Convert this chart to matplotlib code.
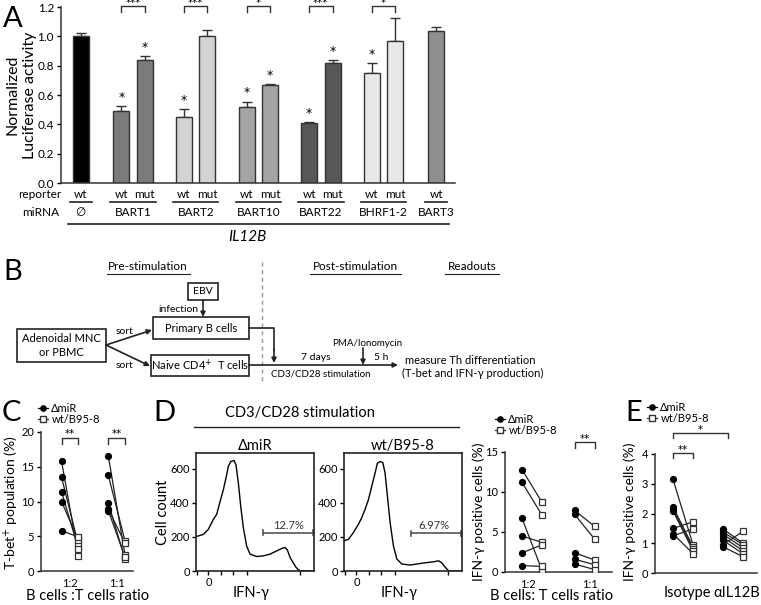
import numpy as np
import matplotlib
matplotlib.use('Agg')
import matplotlib.pyplot as plt
from matplotlib.patches import Rectangle
from matplotlib.lines import Line2D
import matplotlib.transforms as mtransforms

plt.rcParams['font.family'] = ['Lato', 'DejaVu Sans']
STAR_FONT = ['DejaVu Sans']

W, H = 761, 605

# ---------------- data ----------------
# Panel A
mirnas = ['\u2205', 'BART1', 'BART2', 'BART10', 'BART22', 'BHRF1-2', 'BART3']
wt_vals = [1.00, 0.49, 0.45, 0.52, 0.41, 0.75, 1.035]
wt_err = [0.025, 0.035, 0.055, 0.035, 0.006, 0.07, 0.03]
mut_vals = [None, 0.84, 1.00, 0.665, 0.82, 0.965, None]
mut_err = [None, 0.025, 0.04, 0.01, 0.02, 0.16, None]
wt_star = [False, True, True, True, True, True, False]
mut_star = [False, True, False, True, True, False, False]
pair_sig = [None, '***', '***', '*', '***', '*', None]
bar_colors = ['#000000', '#7b7b7b', '#d2d2d2', '#a4a4a4', '#575757', '#e8e8e8', '#8e8e8e']

# Panel C
c_ratios = ['1:2', '1:1']
c_dmir = [[15.8, 13.5, 11.4, 10.0, 5.8], [16.6, 13.8, 9.8, 8.9, 8.7]]
c_wt = [[2.2, 3.8, 3.2, 4.4, 4.9], [2.3, 4.3, 1.7, 4.0, 2.0]]

# Panel D histograms (IFN-gamma, arbitrary x units 0-100)
hist_dmir_x = [0, 6.2, 10.5, 14.7, 17.5, 20.9, 23.2, 25.4, 27.4, 29.4, 32.2, 33.9, 35.9, 37.9,
               40.1, 42.9, 45.8, 51.4, 57.1, 62.7, 68.4, 72.6, 75.4, 77.4, 79.7, 82.5, 84.7,
               86.7, 88.7, 100]
hist_dmir_y = [202, 215, 245, 303, 332, 420, 478, 546, 614, 643, 649, 623, 517, 381,
               255, 147, 99, 85, 89, 99, 118, 132, 138, 124, 80, 47, 22, 8, 0, 0]
hist_wt_x = [0, 3.7, 7.9, 12.2, 15.0, 17.8, 20.7, 23.5, 26.3, 28.3, 30.6, 32.9, 34.8, 36.8,
             39.1, 41.9, 44.8, 49.0, 56.1, 67.4, 75.9, 80.2, 83.0, 85.8, 88.7, 100]
hist_wt_y = [177, 186, 225, 274, 313, 361, 419, 497, 575, 633, 643, 637, 575, 439,
             284, 147, 70, 41, 35, 47, 54, 60, 47, 22, 0, 0]
gate_labels = ['12.7%', '6.97%']
hist_titles = ['\u0394miR', 'wt/B95-8']

# Panel D right
d_ratios = ['1:2', '1:1']
d_dmir = [[12.8, 11.2, 6.7, 4.5, 2.4, 0.8], [7.7, 7.2, 2.4, 1.6, 1.0]]
d_wt = [[8.7, 7.1, 0.2, 3.7, 3.4, 0.7], [5.7, 4.1, 1.5, 0.9, 0.3]]

# Panel E
e_groups = ['Isotype', '\u03b1IL12B']
e_dmir = [[3.15, 2.22, 2.15, 2.08, 1.5, 1.32, 1.25], [1.48, 1.38, 1.3, 1.2, 1.1, 0.95, 0.88]]
e_wt = [[0.95, 0.88, 0.82, 0.75, 1.72, 0.65, 1.48], [1.0, 0.95, 0.85, 0.75, 0.65, 1.4, 0.55]]

# ---------------- figure ----------------
fig = plt.figure(figsize=(W / 100, H / 100), dpi=100)
fig.patch.set_facecolor('white')


def px_axes(x0, y0, x1, y1):
    return fig.add_axes([x0 / W, 1 - y1 / H, (x1 - x0) / W, (y1 - y0) / H])


ov = fig.add_axes([0, 0, 1, 1])
ov.set_xlim(0, W)
ov.set_ylim(H, 0)
ov.axis('off')
ov.set_zorder(10)

LC = '#222222'

# ---------------- Panel A ----------------
axA = px_axes(61, 7, 455, 183)
axA.set_xlim(0, 394)
axA.set_ylim(0, 1.2)
for s in ['top', 'right']:
    axA.spines[s].set_visible(False)
for s in ['left', 'bottom']:
    axA.spines[s].set_linewidth(1.1)
    axA.spines[s].set_color('#333333')
axA.set_xticks([])
axA.set_yticks(np.arange(0, 1.21, 0.2))
axA.set_yticklabels(['%.1f' % v for v in np.arange(0, 1.21, 0.2)], fontsize=8.5)
axA.tick_params(axis='y', length=3, width=1, pad=2)
ov.text(13, 95, 'Normalized', rotation=90, ha='center', va='center', fontsize=11.5)
ov.text(30, 95, 'Luciferase activity', rotation=90, ha='center', va='center', fontsize=11.5)

blendA = mtransforms.blended_transform_factory(axA.transData, ov.transData)
bw = 16
half = 11.75
for i, name in enumerate(mirnas):
    c = 9.5 + 62.6 * i
    single = mut_vals[i] is None
    if single:
        xs = [c + 10 if i == 0 else c - 10]
        labs = ['wt']
    else:
        xs = [c - half, c + half]
        labs = ['wt', 'mut']
    vals = [wt_vals[i]] + ([] if single else [mut_vals[i]])
    errs = [wt_err[i]] + ([] if single else [mut_err[i]])
    stars = [wt_star[i]] + ([] if single else [mut_star[i]])
    axA.bar(xs, vals, width=bw, color=bar_colors[i], edgecolor='#333333', linewidth=1.0, zorder=2)
    for x, v, e, st in zip(xs, vals, errs, stars):
        axA.errorbar([x], [v], yerr=[[0], [e]], fmt='none', ecolor='#333333',
                     elinewidth=1.0, capsize=3.5, capthick=1.0, zorder=1)
        if st:
            axA.text(x, v + e + 0.015, '*', ha='center', va='bottom', fontsize=9,
                     family=STAR_FONT)
    for x, l in zip(xs, labs):
        ov.text(x, 194, l, transform=blendA, ha='center', va='center', fontsize=8.5)
    ov.plot([xs[0] - 11, xs[-1] + 11], [201.5, 201.5], transform=blendA, color=LC, lw=1.2)
    ov.text(np.mean(xs), 213, name, transform=blendA, ha='center', va='center', fontsize=8.5)
    if pair_sig[i]:
        axA.plot([xs[0], xs[0], xs[1], xs[1]], [1.165, 1.205, 1.205, 1.165],
                 color='#333333', lw=1.0, clip_on=False)
        axA.text(np.mean(xs), 1.195, pair_sig[i], ha='center', va='bottom', fontsize=7.5,
                 clip_on=False, family=STAR_FONT)

ov.text(61, 194, 'reporter', ha='right', va='center', fontsize=8.5)
ov.text(59, 213, 'miRNA', ha='right', va='center', fontsize=8.5)
ov.plot([68, 449], [224, 224], color=LC, lw=1.2)
ov.text(247, 237, 'IL12B', ha='center', va='center', fontsize=11, style='italic')
ov.text(3, 19, 'A', ha='left', va='center', fontsize=21)

# ---------------- Panel B ----------------
ov.text(3, 272, 'B', ha='left', va='center', fontsize=21)
for txt, cx, x0, x1 in [('Pre-stimulation', 148, 107, 190),
                        ('Post-stimulation', 355, 310, 401),
                        ('Readouts', 472, 445, 499)]:
    ov.text(cx, 267, txt, ha='center', va='center', fontsize=8.5)
    ov.plot([x0, x1], [274, 274], color=LC, lw=0.8)
ov.plot([262, 262], [262, 384], color='#999999', lw=1.0, ls=(0, (3, 2.5)))


def box(x0, y0, x1, y1):
    ov.add_patch(Rectangle((x0, y0), x1 - x0, y1 - y0, fill=False, ec=LC, lw=1.2))


def arrow(x0, y0, x1, y1):
    ov.annotate('', xy=(x1, y1), xytext=(x0, y0),
                arrowprops=dict(arrowstyle='-|>', color=LC, lw=1.2, mutation_scale=7,
                                shrinkA=0, shrinkB=0))


box(188, 283, 218, 300)
ov.text(203, 291.5, 'EBV', ha='center', va='center', fontsize=7.5)
ov.text(198, 310, 'infection', ha='right', va='center', fontsize=7.5)
arrow(203, 300, 203, 317)
box(153, 317, 249, 339)
ov.text(201, 328, 'Primary B cells', ha='center', va='center', fontsize=8)
box(17, 329, 106, 362)
ov.text(61.5, 339, 'Adenoidal MNC', ha='center', va='center', fontsize=8)
ov.text(61.5, 353, 'or PBMC', ha='center', va='center', fontsize=8)
ov.text(116, 331, 'sort', ha='left', va='center', fontsize=7.5)
ov.text(116, 365, 'sort', ha='left', va='center', fontsize=7.5)
arrow(106, 345, 152, 330)
arrow(106, 345, 150, 366)
box(151, 355, 249, 376)
ov.text(200, 365.5, 'Naive CD4$^{+}$  T cells', ha='center', va='center', fontsize=8)
ov.plot([249, 274, 274], [328, 328, 350], color=LC, lw=1.2)
arrow(274, 349, 274, 363)
arrow(249, 365, 398, 365)
ov.text(316, 357, '7 days', ha='center', va='center', fontsize=7.5)
ov.text(367, 343, 'PMA/Ionomycin', ha='center', va='center', fontsize=7)
arrow(363, 348, 363, 365)
ov.text(381, 357, '5 h', ha='center', va='center', fontsize=7.5)
ov.text(321, 374, 'CD3/CD28 stimulation', ha='center', va='center', fontsize=7)
ov.text(405, 360, 'measure Th differentiation', ha='left', va='center', fontsize=8)
ov.text(402, 373, '(T-bet and IFN-\u03b3 production)', ha='left', va='center', fontsize=8)

# ---------------- helpers for paired plots ----------------

def paired(ax, dmir, wt, off):
    for ci, (dl, wl) in enumerate(zip(dmir, wt)):
        cx = ci + 1
        for a, b in zip(dl, wl):
            ax.plot([cx - off, cx + off], [a, b], color=LC, lw=0.9, zorder=2)
        ax.plot([cx - off] * len(dl), dl, 'o', color='k', ms=4.2, zorder=3)
        ax.plot([cx + off] * len(wl), wl, 's', mfc='white', mec='#333333', mew=0.9,
                ms=4.8, zorder=3)


def style_pair_ax(ax):
    for s in ['top', 'right']:
        ax.spines[s].set_visible(False)
    for s in ['left', 'bottom']:
        ax.spines[s].set_linewidth(1.1)
        ax.spines[s].set_color('#333333')
    ax.tick_params(axis='y', length=3, width=1, labelsize=8, pad=2)
    ax.tick_params(axis='x', length=0, labelsize=8, pad=5)


def bracket(ax, x0, x1, ytop, ydrop, label, fs=7.5):
    ax.plot([x0, x0, x1, x1], [ytop - ydrop, ytop, ytop, ytop - ydrop], color='#333333',
            lw=1.0, clip_on=False)
    ax.text((x0 + x1) / 2, ytop - ydrop * 0.3, label, ha='center', va='bottom', fontsize=fs,
            clip_on=False, family=STAR_FONT)


def legend_at(x, y):
    h = [Line2D([0], [0], marker='o', color='k', ms=3.8, lw=0.9),
         Line2D([0], [0], marker='s', color='#333333', mfc='white', ms=4.2, lw=0.9)]
    fig.legend(h, ['\u0394miR', 'wt/B95-8'], loc='upper left',
               bbox_to_anchor=(x / W, 1 - y / H), bbox_transform=fig.transFigure,
               frameon=False, fontsize=8, handlelength=0.9, handletextpad=0.3,
               labelspacing=0.0, borderpad=0, borderaxespad=0)

# ---------------- Panel C ----------------
ov.text(2, 413, 'C', ha='left', va='center', fontsize=21)
legend_at(38, 403)
axC = px_axes(41, 432, 133, 571)
style_pair_ax(axC)
axC.set_xlim(0.38, 2.35)
axC.set_ylim(0, 20)
axC.set_yticks([0, 5, 10, 15, 20])
axC.set_xticks([1, 2])
axC.set_xticklabels(c_ratios)
paired(axC, c_dmir, c_wt, 0.18)
for i in range(2):
    bracket(axC, i + 1 - 0.18, i + 1 + 0.18, 19.2, 0.9, '**')
ov.text(11, 503, 'T-bet$^{+}$ population (%)', rotation=90, ha='center', va='center',
        fontsize=10)
ov.text(88, 596, 'B cells :T cells ratio', ha='center', va='center', fontsize=10.5)

# ---------------- Panel D ----------------
ov.text(153, 413, 'D', ha='left', va='center', fontsize=21)
ov.text(300, 413, 'CD3/CD28 stimulation', ha='center', va='center', fontsize=10.5)
ov.plot([194, 459], [427, 427], color=LC, lw=1.0)
hist_sets = [(hist_dmir_x, hist_dmir_y), (hist_wt_x, hist_wt_y)]
for k, (x0, x1) in enumerate([(196, 314), (344, 462)]):
    ax = px_axes(x0, 453, x1, 571)
    hx, hy = hist_sets[k]
    ax.plot(hx, hy, color='k', lw=1.0)
    ax.set_xlim(0, 100)
    ax.set_ylim(0, 693)
    for s in ax.spines.values():
        s.set_linewidth(1.2)
        s.set_color('#222222')
    ax.set_yticks([0, 200, 400, 600])
    ax.tick_params(axis='y', length=3, width=1, labelsize=8, pad=1.5)
    ax.set_xticks([1, 10.5, 21, 31, 43, 88])
    ax.set_xticklabels(['', '0', '', '', '', ''])
    ax.tick_params(axis='x', length=3, width=1, labelsize=8, pad=1)
    gy = 225 if k == 0 else 221
    ax.plot([56.5, 100], [gy, gy], color='#555555', lw=1.2, clip_on=False)
    ax.plot([56.5, 56.5], [gy - 15, gy + 15], color='#555555', lw=1.2)
    ax.plot([99.3, 99.3], [gy - 15, gy + 15], color='#555555', lw=1.2)
    ax.text(78 if k == 0 else 76, gy + 12, gate_labels[k], ha='center', va='bottom',
            fontsize=8, color='#333333')
    ax.set_title(hist_titles[k], fontsize=10.5, pad=2)
    ov.text((x0 + x1) / 2 - 4, 593, 'IFN-\u03b3', ha='center', va='center', fontsize=10.5)
    if k == 0:
        ov.text(163, 512, 'Cell count', rotation=90, ha='center', va='center', fontsize=10.5)

legend_at(495, 414)
axD = px_axes(505, 452, 612, 572)
style_pair_ax(axD)
axD.set_xlim(0.486, 2.52)
axD.set_ylim(0, 15)
axD.set_yticks([0, 5, 10, 15])
axD.set_xticks([0.92, 2.1])
axD.set_xticklabels(d_ratios)
paired(axD, d_dmir, d_wt, 0.19)
bracket(axD, 2 - 0.19, 2 + 0.19, 16.3, 0.8, '**')
ov.text(479, 512, 'IFN-\u03b3 positive cells (%)', rotation=90, ha='center', va='center',
        fontsize=10)
ov.text(552, 596, 'B cells: T cells ratio', ha='center', va='center', fontsize=10.5)

# ---------------- Panel E ----------------
ov.text(625, 413, 'E', ha='left', va='center', fontsize=21)
legend_at(647, 402)
axE = px_axes(655, 454, 757, 573)
style_pair_ax(axE)
axE.set_xlim(0.44, 2.48)
axE.set_ylim(0, 4)
axE.set_yticks([0, 1, 2, 3, 4])
axE.set_xticks([])
paired(axE, e_dmir, e_wt, 0.2)
bracket(axE, 0.8, 1.2, 4.02, 0.16, '**')
bracket(axE, 0.8, 1.9, 4.7, 0.16, '*')
ov.text(630, 512, 'IFN-\u03b3 positive cells (%)', rotation=90, ha='center', va='center',
        fontsize=10)
ov.text(687, 593, e_groups[0], ha='center', va='center', fontsize=10.5)
ov.text(737, 593, e_groups[1], ha='center', va='center', fontsize=10.5)

fig.savefig('out.png', dpi=100, facecolor='white')
